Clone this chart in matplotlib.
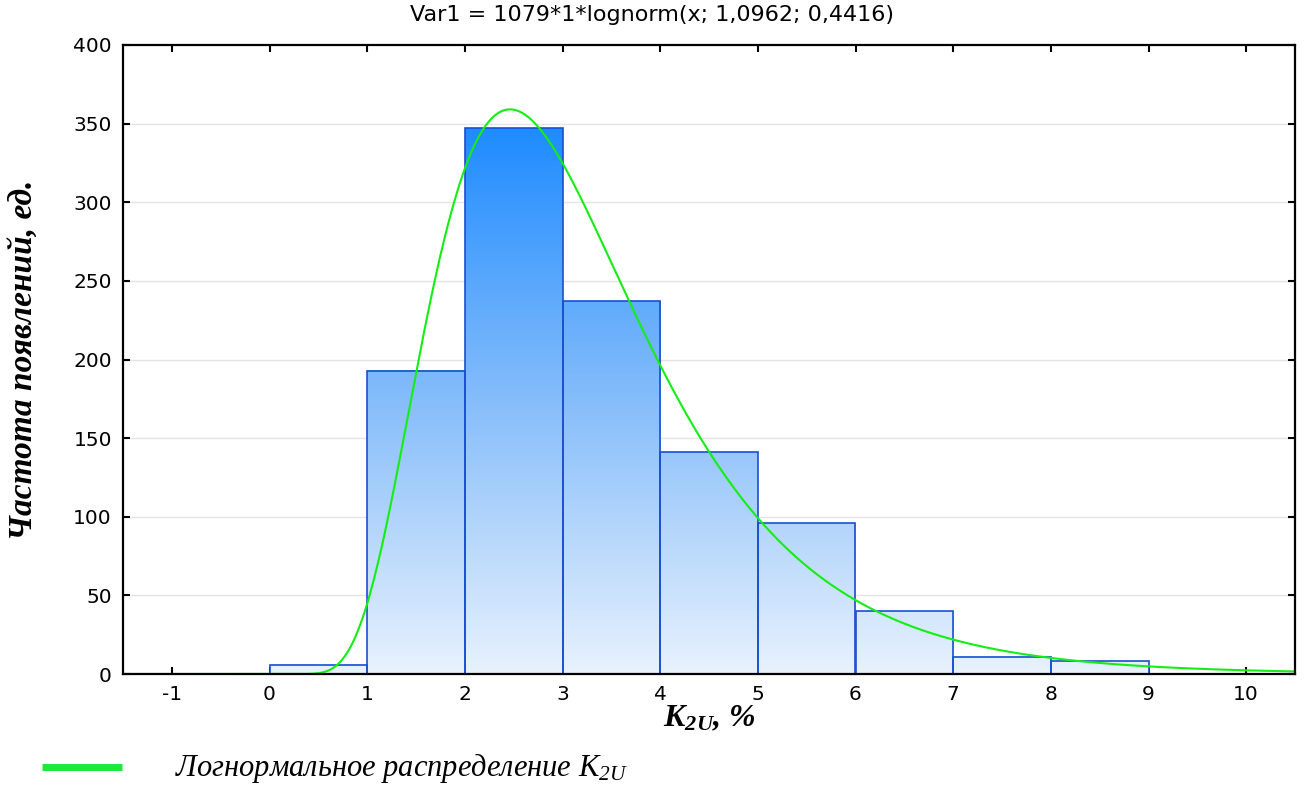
import numpy as np
import matplotlib
matplotlib.use("Agg")
from matplotlib import pyplot as plt
from matplotlib.colors import LinearSegmentedColormap
from matplotlib.lines import Line2D

# histogram data
bin_left = [-1, 0, 1, 2, 3, 4, 5, 6, 7, 8, 9]
counts = [0, 6, 193, 347, 237, 141, 96, 40, 11, 8, 0]
bin_width = 1.0

# fitted curve from the title: Var1 = 1079*1*lognorm(x; 1,0962; 0,4416)
n_total = 1079
mu = 1.0962
sigma = 0.4416

xticks = list(range(-1, 11))
yticks = list(range(0, 401, 50))

title = "Var1 = 1079*1*lognorm(x; 1,0962; 0,4416)"
xlabel = r"$\mathbf{K_{2U}}$, %"
ylabel = "Частота появлений, ед."
legend_label = r"Логнормальное распределение $K_{2U}$"

plt.rcParams["mathtext.fontset"] = "custom"
plt.rcParams["mathtext.rm"] = "Liberation Serif:italic"
plt.rcParams["mathtext.it"] = "Liberation Serif:italic"
plt.rcParams["mathtext.bf"] = "Liberation Serif:italic:bold"

fig = plt.figure(figsize=(13.05, 8.11), dpi=100)
ax = fig.add_axes([123 / 1305, 1 - 674 / 811, (1295 - 123) / 1305, (674 - 45) / 811])

cmap = LinearSegmentedColormap.from_list("bars", ["#e8f2fd", "#86bdfa", "#1e8cff"])
vmax = max(counts)
for x0, h in zip(bin_left, counts):
    if h <= 0:
        continue
    grad = np.linspace(0, h, 256).reshape(-1, 1)
    ax.imshow(grad, extent=(x0, x0 + bin_width, 0, h), origin="lower",
              aspect="auto", cmap=cmap, vmin=0, vmax=vmax, zorder=2)
ax.bar(bin_left, counts, width=bin_width, align="edge", fill=False,
       edgecolor="#1a4fcf", linewidth=1.2, zorder=3)

x = np.linspace(-1.5, 10.5, 1200)
xp = np.clip(x, 1e-6, None)
pdf = np.exp(-(np.log(xp) - mu) ** 2 / (2 * sigma ** 2)) / (xp * sigma * np.sqrt(2 * np.pi))
pdf[x <= 0] = 0
ax.plot(x, n_total * pdf, color="#14ee14", linewidth=1.5, zorder=4)

ax.set_xlim(-1.5, 10.5)
ax.set_ylim(0, 400)
ax.set_xticks(xticks)
ax.set_yticks(yticks)
ax.set_xticklabels([str(t) for t in xticks])
for y in yticks[1:-1]:
    ax.axhline(y, color="#e4e4e4", linewidth=1, zorder=1)
ax.tick_params(direction="in", length=5, width=1.5, top=True, right=True,
               labelsize=14.5, pad=8)
for lab in ax.get_xticklabels() + ax.get_yticklabels():
    lab.set_fontfamily("DejaVu Sans")
for s in ax.spines.values():
    s.set_linewidth(1.6)
    s.set_zorder(5)

# title sits centred on the figure, not on the axes
fig.text(0.5, 1 - 15 / 811, title, fontsize=16, fontfamily="DejaVu Sans",
         ha="center", va="center")
ax.set_xlabel(xlabel, fontsize=23, fontfamily="Liberation Serif",
              fontstyle="italic", fontweight="bold", labelpad=0)
ax.set_ylabel(ylabel, fontsize=24, fontfamily="Liberation Serif",
              fontstyle="italic", fontweight="bold", labelpad=24)

fig.add_artist(Line2D([42 / 1305, 122 / 1305], [1 - 767 / 811, 1 - 767 / 811],
                      color="#1ee83c", linewidth=5, solid_capstyle="butt"))
fig.text(175 / 1305, 1 - 768 / 811, legend_label, fontsize=22,
         fontfamily="Liberation Serif", fontstyle="italic", va="center")

fig.savefig("out.png", dpi=100)
